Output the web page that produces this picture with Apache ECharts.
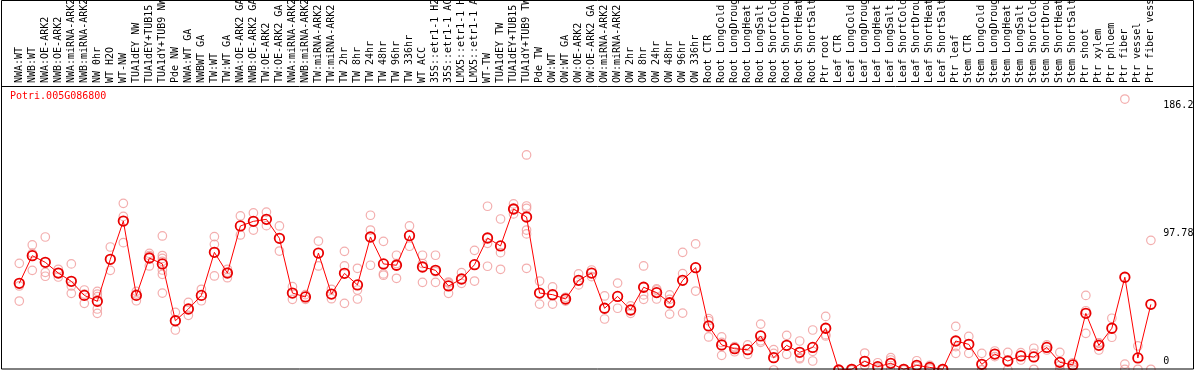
<!DOCTYPE html>
<html>
<head>
<meta charset="utf-8">
<script src="https://cdn.jsdelivr.net/npm/echarts@6/dist/echarts.min.js"></script>
<style>html,body{margin:0;padding:0;background:#fff;}#c{width:1194px;height:370px;}</style>
</head>
<body>
<div id="c"></div>
<script>
const geneName = 'Potri.005G086800';
const categories = [
 'NWA:WT','NWB:WT','NWA:OE-ARK2','NWB:OE-ARK2','NWA:miRNA-ARK2','NWB:miRNA-ARK2','NW 0hr','WT H2O','WT-NW','TUA1dEY NW','TUA1dEY+TUB15 NW','TUA1dY+TUB9 NW','Pde NW',
 'NWA:WT GA','NWBWT GA','TW:WT','TW:WT GA','NWA:OE-ARK2 GA','NWB:OE-ARK2 GA','TW:OE-ARK2','TW:OE-ARK2 GA','NWA:miRNA-ARK2','NWB:miRNA-ARK2','TW:miRNA-ARK2','TW:miRNA-ARK2','TW 2hr','TW 8hr','TW 24hr','TW 48hr','TW 96hr','TW 336hr','WT ACC','35S::etr1-1 H2O','35S::etr1-1 ACC','LMX5::etr1-1 H2O','LMX5::etr1-1 ACC','WT-TW','TUA1dEY TW','TUA1dEY+TUB15 TW','TUA1dY+TUB9 TW','Pde TW',
 'OW:WT','OW:WT GA','OW:OE-ARK2','OW:OE-ARK2 GA','OW:miRNA-ARK2','OW:miRNA-ARK2','OW 2hr','OW 8hr','OW 24hr','OW 48hr','OW 96hr','OW 336hr',
 'Root CTR','Root LongCold','Root LongDrought','Root LongHeat','Root LongSalt','Root ShortCold','Root ShortDrought','Root ShortHeat','Root ShortSalt','Ptr root',
 'Leaf CTR','Leaf LongCold','Leaf LongDrought','Leaf LongHeat','Leaf LongSalt','Leaf ShortCold','Leaf ShortDrought','Leaf ShortHeat','Leaf ShortSalt','Ptr leaf',
 'Stem CTR','Stem LongCold','Stem LongDrought','Stem LongHeat','Stem LongSalt','Stem ShortCold','Stem ShortDrought','Stem ShortHeat','Stem ShortSalt','Ptr shoot','Ptr xylem',
 'Ptr phloem','Ptr fiber','Ptr vessel','Ptr fiber vessel'
];
// first category index of each group (plus the end)
const groupStarts = [0, 13, 41, 63, 73, 84, 85, 86, 87, 88];
const means = [
 59.8,78.9,74.3,66.9,61.2,51.5,47.4,76.4,102.8,51.5,77.3,73.2,34.0,
 42.1,51.5,81.2,66.9,99.4,102.6,104.0,90.9,53.1,50.4,80.7,52.4,66.7,58.7,91.8,73.2,72.3,92.7,71.1,68.8,58.0,62.8,72.7,91.1,85.6,111.1,105.6,53.1,
 52.0,49.0,61.9,66.9,42.6,50.8,41.4,57.1,53.4,46.4,61.9,70.6,
 30.4,17.3,14.7,14.0,23.5,8.5,17.0,12.2,15.6,28.8,
 0,0.5,6.0,2.3,4.6,0.5,3.2,1.8,0.5,20.0,
 17.7,3.9,11.0,6.2,9.7,9.0,15.6,5.3,3.5,39.1,17.0,
 28.8,64.0,8.3,45.3
];
const replicates = [
 [73.6,58,47.6],[86.3,80.5,68.8],[91.8,67.4,64.7],[69.5,67,64.2],[73.2,58,52.9],[55.2,52.4,46],
 [54.3,52.4,50.6,42.1,39.1],[84.9,68.8],[115,106,87.9],[54.3,52.4,47.8],[80.5,79,71.8],
 [92.5,79,77,75,69,66,53.1],[39.8,27.6],
 [46.7,37.7],[55.7,47.8],[92,86.7,64.9],[69.5,67.5,63.7],[106.3,93.2],[108.4,96.6],[109,99.6],[99.4,82.1],
 [57.5,48.8],[52,48.8],[89,71.8],[55.7,49.2],[81.9,71.8,46],[70.2,55.2,49],[106.8,96.6,72.3],[88.8,66.3,65.4],
 [79.2,73.5,63.3],[99.4,85.4],[79.2,73.5,60.5],[79.2,67.8,60.5],[60.7,60,52.9],[67.2,59.8],[82.6,61.4],
 [113,87.4,71.6],[104.2,81,69.5],[114.6,111,107.7],[148.4,113.2,111.6,96.6,93.9,70.2],[61.4,45.5],
 [57.3,45.5],[50.2,47.6],[66.3,58.7],[69,64.4],[51.1,35.2],[60,42.6],[44.2,39.1],[71.8,51.8,48.8],
 [55.2,56,49],[51.8,48.8,38.6],[81.2,66.5,39.3],[87,54.5],
 [35.4,34,22.8],[22.8,19,10.1],[16.1,15.5,12.6],[17.3,10.8],[31.7,20.2,19.1],[14,11.5,0],[23.9,10.8],
 [20,8.5,7.8],[27.6,12.9,6.2],[37,24.4,23.5],
 [0,0,0],[1,0.3,0],[11.7,3.2,3],[5,1.5,0.5],[8.5,6.9,0],[1,0.5,0],[6.4,2.5,0.7],[3.2,1.5,0.7],[1,0.5,0],[30.1,16.1,11.5],
 [23.2,11.5],[11.5,0.2,0],[13.1,9.2],[12.2,6.2,0.3],[12,6.9],[15,11.5,0.5],[17.3,13.8],[12.2,3.2,0.5],[5,2.1,0.5],
 [51.5,40.9,25.3],[18.8,18.4,13.8],
 [35.7,22.6],[187,4.1,0.5],[16.6,0.5],[89.5,0.5]
];
const yTickLabels = [97.78, 186.2];
const yZeroLabel = [0];

const FONT = 'DejaVu Sans Mono';
const OFF = 0.66; // group boundary offset in category units
const repData = [];
replicates.forEach((arr, i) => arr.forEach(v => repData.push([i, v])));
const meanData = means.map((v, i) => [i, v]);
const vLines = groupStarts.map(g => [{coord: [g - OFF, 0]}, {coord: [g - OFF, 260]}]);
const hLine = [[{coord: [-1.37, 97.78]}, {coord: [87.86, 97.78]}]];

const chart = echarts.init(document.getElementById('c'), null, {renderer: 'canvas'});
chart.setOption({
  animation: false,
  backgroundColor: '#ffffff',
  title: {
    text: geneName, left: 10, top: 91, padding: 0,
    textStyle: {color: '#ff0000', fontSize: 10, fontFamily: FONT, fontWeight: 'normal'}
  },
  grid: {left: 10.7, right: 38.7, top: 86, bottom: 0, containLabel: false, outerBoundsMode: 'none'},
  xAxis: {
    type: 'value', position: 'top', min: -OFF, max: 88 - OFF,
    axisLine: {show: false}, axisTick: {show: false}, splitLine: {show: false},
    axisLabel: {
      customValues: categories.map((c, i) => i),
      formatter: v => categories[Math.round(v)] || '',
      rotate: 90, margin: 3, fontSize: 10, fontFamily: FONT, color: '#000'
    }
  },
  yAxis: [{
    type: 'value', position: 'right', min: 0, max: 196,
    axisLine: {show: false}, axisTick: {show: false}, splitLine: {show: false},
    axisLabel: {customValues: yTickLabels, verticalAlign: 'top', margin: 8, fontSize: 10, fontFamily: FONT, color: '#000'}
  }, {
    type: 'value', position: 'right', min: 0, max: 196,
    axisLine: {show: false}, axisTick: {show: false}, splitLine: {show: false},
    axisLabel: {customValues: yZeroLabel, verticalAlign: 'bottom', padding: [0, 0, 4, 0], margin: 8, fontSize: 10, fontFamily: FONT, color: '#000'}
  }],
  graphic: [
    {type: 'rect', z: 100, silent: true, shape: {x: 1.5, y: 0.5, width: 1192, height: 368.5}, style: {fill: 'none', stroke: '#000', lineWidth: 1}},
    {type: 'line', z: 100, silent: true, shape: {x1: 1.5, y1: 86.5, x2: 1193.5, y2: 86.5}, style: {stroke: '#000', lineWidth: 1}}
  ],
  series: [{
    name: 'replicates', type: 'scatter', data: repData, clip: false, z: 2,
    symbol: 'circle', symbolSize: 8.5,
    itemStyle: {color: 'rgba(0,0,0,0)', borderColor: '#f09a9a', borderWidth: 1.2},
    markLine: {
      silent: true, symbol: ['none', 'none'], label: {show: false}, animation: false,
      lineStyle: {color: '#c4c4c4', type: 'solid', width: 1},
      data: vLines.concat(hLine)
    }
  }, {
    name: 'mean', type: 'line', data: meanData, clip: false, z: 3,
    symbol: 'circle', symbolSize: 9.5, showAllSymbol: true,
    lineStyle: {color: '#ff0000', width: 1},
    itemStyle: {color: 'rgba(0,0,0,0)', borderColor: '#e80000', borderWidth: 1.8}
  }]
});
</script>
</body>
</html>
